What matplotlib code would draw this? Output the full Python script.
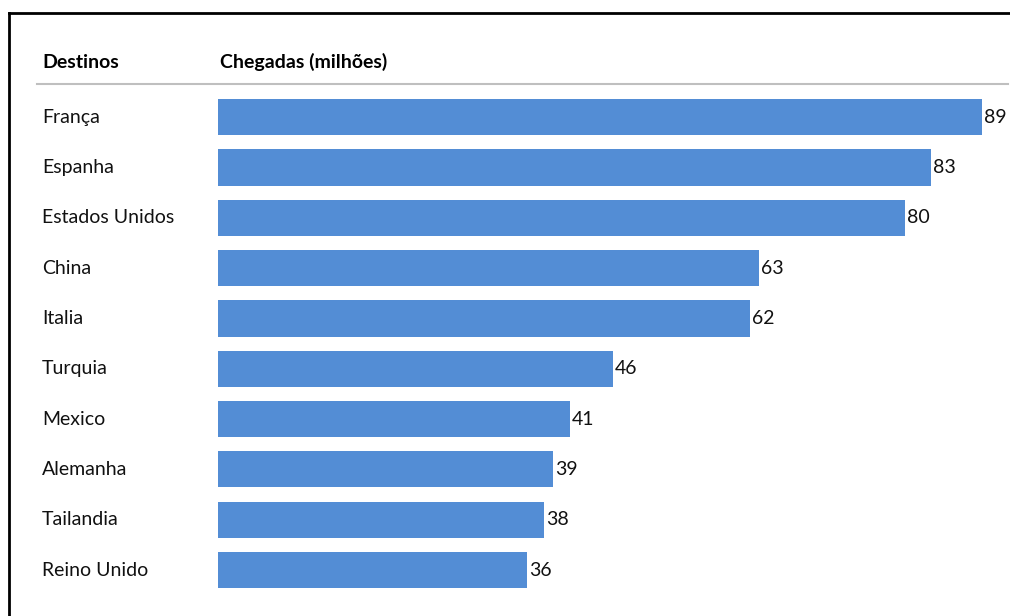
import matplotlib
matplotlib.use("Agg")
from matplotlib import pyplot as plt
from matplotlib.transforms import blended_transform_factory
from matplotlib.lines import Line2D

plt.rcParams['font.family'] = ['Lato', 'DejaVu Sans']

# dados
destinos = ["França", "Espanha", "Estados Unidos", "China", "Italia",
            "Turquia", "Mexico", "Alemanha", "Tailandia", "Reino Unido"]
chegadas = [89, 83, 80, 63, 62, 46, 41, 39, 38, 36]
titulo_col1 = "Destinos"
titulo_col2 = "Chegadas (milhões)"

W, H = 1010, 616
fig = plt.figure(figsize=(W / 100, H / 100), dpi=100)

# eixo das barras (coordenadas em pixels convertidas)
x0, x1 = 218, 1008
y_top, y_bot = 91.9, 595.2
ax = fig.add_axes([x0 / W, 1 - y_bot / H, (x1 - x0) / W, (y_bot - y_top) / H])
pos = list(range(len(destinos)))
ax.barh(pos, chegadas, height=0.72, color="#538DD5")
ax.set_xlim(0, (x1 - x0) / 8.585)
ax.set_ylim(len(destinos) - 0.5, -0.5)
ax.axis('off')

for p, v in zip(pos, chegadas):
    ax.text(v + 0.25, p, str(v), va='center', ha='left', fontsize=14, color='#111111')

# rótulos das categorias
tr = blended_transform_factory(fig.transFigure, ax.transData)
for p, nome in zip(pos, destinos):
    ax.text(42 / W, p, nome, transform=tr, va='center', ha='left', fontsize=14, color='#111111')

# cabeçalho
fig.text(42 / W, 1 - 62 / H, titulo_col1, fontsize=14, fontweight='bold', va='center', ha='left')
fig.text(220 / W, 1 - 62 / H, titulo_col2, fontsize=14, fontweight='bold', va='center', ha='left')

# linha cinza e moldura
fig.add_artist(Line2D([37 / W, 1008 / W], [1 - 84 / H] * 2, color='#BFBFBF', lw=1.5))
fig.add_artist(Line2D([9 / W, 9 / W], [0, 1 - 13 / H], color='black', lw=2))
fig.add_artist(Line2D([9 / W, 1], [1 - 13 / H] * 2, color='black', lw=2))

fig.savefig("out.png", dpi=100)
